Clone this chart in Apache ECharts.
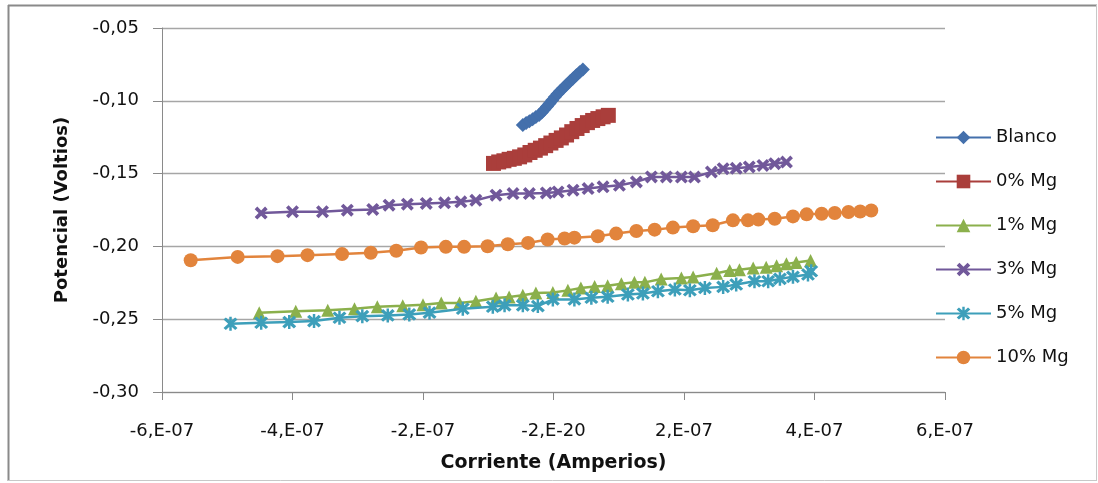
<!DOCTYPE html>
<html>
<head>
<meta charset="utf-8">
<script src="https://cdn.jsdelivr.net/npm/echarts@6/dist/echarts.min.js"></script>
<style>
html,body{margin:0;padding:0;background:#fff;}
#c{width:1098px;height:483px;}
</style>
</head>
<body>
<div id="c"></div>
<script>
// ---- data ----
const xTickLabels = ['-6,E-07', '-4,E-07', '-2,E-07', '-2,E-20', '2,E-07', '4,E-07', '6,E-07'];
const yTickLabels = ['-0,30', '-0,25', '-0,20', '-0,15', '-0,10', '-0,05'];
const seriesNames = ['Blanco', '0% Mg', '1% Mg', '3% Mg', '5% Mg', '10% Mg'];

const blanco = [
  [-4.7e-8, -0.1166], [-4.2e-8, -0.1153], [-3.7e-8, -0.1140], [-3.2e-8, -0.1126],
  [-2.7e-8, -0.1112], [-2.2e-8, -0.1097], [-1.8e-8, -0.1080], [-1.4e-8, -0.1060],
  [-1.0e-8, -0.1040], [-0.6e-8, -0.1019], [-0.2e-8, -0.0996], [0.2e-8, -0.0974],
  [0.6e-8, -0.0954], [1.0e-8, -0.0935], [1.5e-8, -0.0912], [2.0e-8, -0.0890],
  [2.5e-8, -0.0868], [3.0e-8, -0.0846], [3.5e-8, -0.0824], [4.0e-8, -0.0804],
  [4.5e-8, -0.0785]
];

const mg0 = [
  [-0.92e-7, -0.1430], [-0.84e-7, -0.1420], [-0.76e-7, -0.1412], [-0.68e-7, -0.1402],
  [-0.60e-7, -0.1395], [-0.52e-7, -0.1385], [-0.44e-7, -0.1372], [-0.36e-7, -0.1355],
  [-0.28e-7, -0.1340], [-0.20e-7, -0.1325], [-0.12e-7, -0.1308], [-0.04e-7, -0.1290],
  [0.04e-7, -0.1272], [0.12e-7, -0.1255], [0.20e-7, -0.1235], [0.28e-7, -0.1212],
  [0.36e-7, -0.1190], [0.44e-7, -0.1170], [0.52e-7, -0.1150], [0.60e-7, -0.1135],
  [0.68e-7, -0.1122], [0.76e-7, -0.1110], [0.84e-7, -0.1100]
];

const mg1 = [
  [-4.51e-7, -0.2455], [-3.95e-7, -0.2445], [-3.46e-7, -0.2438], [-3.05e-7, -0.2429],
  [-2.70e-7, -0.2415], [-2.31e-7, -0.2407], [-2.00e-7, -0.2400], [-1.72e-7, -0.2388],
  [-1.44e-7, -0.2388], [-1.19e-7, -0.2377], [-0.88e-7, -0.2354], [-0.68e-7, -0.2347],
  [-0.47e-7, -0.2336], [-0.27e-7, -0.2320], [-0.01e-7, -0.2316], [0.22e-7, -0.2302],
  [0.42e-7, -0.2286], [0.63e-7, -0.2275], [0.83e-7, -0.2270], [1.04e-7, -0.2256],
  [1.24e-7, -0.2247], [1.40e-7, -0.2247], [1.65e-7, -0.2224], [1.96e-7, -0.2217],
  [2.14e-7, -0.2210], [2.50e-7, -0.2184], [2.70e-7, -0.2165], [2.85e-7, -0.2161],
  [3.06e-7, -0.2149], [3.26e-7, -0.2143], [3.42e-7, -0.2133], [3.57e-7, -0.2120],
  [3.72e-7, -0.2111], [3.94e-7, -0.2097]
];

const mg3 = [
  [-4.48e-7, -0.1771], [-4.00e-7, -0.1762], [-3.54e-7, -0.1762], [-3.16e-7, -0.1751],
  [-2.77e-7, -0.1746], [-2.52e-7, -0.1717], [-2.24e-7, -0.1710], [-1.95e-7, -0.1705],
  [-1.67e-7, -0.1701], [-1.42e-7, -0.1694], [-1.19e-7, -0.1683], [-0.88e-7, -0.1648],
  [-0.62e-7, -0.1637], [-0.37e-7, -0.1637], [-0.11e-7, -0.1633], [0.07e-7, -0.1626],
  [0.30e-7, -0.1614], [0.53e-7, -0.1603], [0.76e-7, -0.1591], [1.01e-7, -0.1580],
  [1.27e-7, -0.1557], [1.50e-7, -0.1523], [1.73e-7, -0.1523], [1.96e-7, -0.1524],
  [2.16e-7, -0.1524], [2.42e-7, -0.1489], [2.60e-7, -0.1466], [2.80e-7, -0.1464],
  [3.00e-7, -0.1454], [3.21e-7, -0.1444], [3.39e-7, -0.1432], [3.57e-7, -0.1421]
];

const mg5 = [
  [-4.95e-7, -0.2531], [-4.48e-7, -0.2524], [-4.05e-7, -0.2520], [-3.67e-7, -0.2513],
  [-3.28e-7, -0.2490], [-2.93e-7, -0.2479], [-2.54e-7, -0.2474], [-2.21e-7, -0.2467],
  [-1.90e-7, -0.2455], [-1.39e-7, -0.2428], [-0.93e-7, -0.2414], [-0.75e-7, -0.2405],
  [-0.47e-7, -0.2405], [-0.24e-7, -0.2410], [-0.01e-7, -0.2364], [0.32e-7, -0.2364],
  [0.58e-7, -0.2353], [0.83e-7, -0.2346], [1.14e-7, -0.2330], [1.37e-7, -0.2323],
  [1.60e-7, -0.2308], [1.86e-7, -0.2296], [2.09e-7, -0.2301], [2.32e-7, -0.2285],
  [2.60e-7, -0.2278], [2.80e-7, -0.2262], [3.08e-7, -0.2239], [3.29e-7, -0.2239],
  [3.47e-7, -0.2223], [3.67e-7, -0.2209], [3.90e-7, -0.2193], [3.95e-7, -0.2171]
];

const mg10 = [
  [-5.56e-7, -0.2095], [-4.84e-7, -0.2072], [-4.23e-7, -0.2067], [-3.77e-7, -0.2060],
  [-3.24e-7, -0.2053], [-2.80e-7, -0.2044], [-2.41e-7, -0.2030], [-2.03e-7, -0.2008],
  [-1.65e-7, -0.2003], [-1.37e-7, -0.2003], [-1.01e-7, -0.1999], [-0.70e-7, -0.1985],
  [-0.39e-7, -0.1976], [-0.09e-7, -0.1953], [0.17e-7, -0.1946], [0.32e-7, -0.1940],
  [0.68e-7, -0.1930], [0.96e-7, -0.1912], [1.27e-7, -0.1894], [1.55e-7, -0.1885],
  [1.83e-7, -0.1871], [2.14e-7, -0.1862], [2.44e-7, -0.1855], [2.75e-7, -0.1821],
  [2.98e-7, -0.1821], [3.14e-7, -0.1816], [3.39e-7, -0.1810], [3.67e-7, -0.1794],
  [3.88e-7, -0.1780], [4.11e-7, -0.1776], [4.31e-7, -0.1771], [4.52e-7, -0.1764],
  [4.70e-7, -0.1760], [4.87e-7, -0.1753]
];

// ---- styling ----
const colors = ['#4470AC', '#AA3E3B', '#8BB04C', '#71589A', '#3D9FBA', '#E2843C'];
const FONT = 'DejaVu Sans';
const X_PATH = 'path://M2,0 L5,3 L8,0 L10,2 L7,5 L10,8 L8,10 L5,7 L2,10 L0,8 L3,5 L0,2 Z';
const STAR_PATH = 'path://M2,0.5 L5,3.5 L8,0.5 L9.5,2 L6.5,5 L9.5,8 L8,9.5 L5,6.5 L2,9.5 L0.5,8 L3.5,5 L0.5,2 Z M4.2,0 L5.8,0 L5.8,10 L4.2,10 Z';
const symbols = ['diamond', 'rect', 'triangle', X_PATH, STAR_PATH, 'circle'];
const sizes = [14, 15, 13, 13, 14, 14];
const datasets = [blanco, mg0, mg1, mg3, mg5, mg10];

const xMin = -6e-7, xMax = 6e-7, xStep = 2e-7;
const yMin = -0.30, yMax = -0.05, yStep = 0.05;

const chart = echarts.init(document.getElementById('c'), null, {renderer: 'canvas'});

const series = datasets.map((d, i) => ({
  name: seriesNames[i],
  type: 'line',
  data: d,
  symbol: symbols[i],
  symbolSize: sizes[i],
  showSymbol: true,
  showAllSymbol: true,
  smooth: false,
  lineStyle: {color: colors[i], width: 2.5},
  itemStyle: {color: colors[i]},
  emphasis: {disabled: true},
  z: 2 + i
}));

chart.setOption({
  animation: false,
  backgroundColor: '#ffffff',
  grid: {left: 162, right: 153, top: 28, bottom: 91, containLabel: false},
  xAxis: {
    type: 'value',
    min: xMin, max: xMax, interval: xStep,
    name: 'Corriente (Amperios)',
    nameLocation: 'middle',
    nameGap: 62,
    nameTextStyle: {fontFamily: FONT, fontSize: 19, fontWeight: 'bold', color: '#111'},
    axisLine: {show: true, onZero: false, lineStyle: {color: '#8a8a8a', width: 1}},
    axisTick: {show: true, length: 8, lineStyle: {color: '#8a8a8a'}},
    splitLine: {show: false},
    axisLabel: {
      margin: 30,
      fontFamily: FONT, fontSize: 18, color: '#111',
      formatter: function (v) {
        const k = Math.round((v - xMin) / xStep);
        return xTickLabels[k] !== undefined ? xTickLabels[k] : '';
      }
    }
  },
  yAxis: {
    type: 'value',
    min: yMin, max: yMax, interval: yStep,
    name: 'Potencial (Voltios)',
    nameLocation: 'middle',
    nameGap: 91,
    nameTextStyle: {fontFamily: FONT, fontSize: 18, fontWeight: 'bold', color: '#111'},
    axisLine: {show: true, onZero: false, lineStyle: {color: '#8a8a8a', width: 1}},
    axisTick: {show: true, length: 9, lineStyle: {color: '#8a8a8a'}},
    splitLine: {show: true, lineStyle: {color: '#a6a6a6', width: 1.3}},
    axisLabel: {
      margin: 23,
      fontFamily: FONT, fontSize: 18, color: '#111',
      formatter: function (v) {
        const k = Math.round((v - yMin) / yStep);
        return yTickLabels[k] !== undefined ? yTickLabels[k] : '';
      }
    }
  },
  legend: {
    orient: 'vertical',
    left: 930,
    top: 122,
    itemWidth: 55,
    itemHeight: 17,
    itemGap: 23,
    textStyle: {fontFamily: FONT, fontSize: 18, color: '#111', lineHeight: 21, padding: [0, 0, 0, 0]},
    data: seriesNames
  },
  graphic: [
    {type: 'line', shape: {x1: 8, y1: 5.5, x2: 1097, y2: 5.5}, style: {stroke: '#8a8a8a', lineWidth: 2}, silent: true},
    {type: 'line', shape: {x1: 8.5, y1: 5, x2: 8.5, y2: 481}, style: {stroke: '#8a8a8a', lineWidth: 2}, silent: true},
    {type: 'line', shape: {x1: 1096.5, y1: 5, x2: 1096.5, y2: 481}, style: {stroke: '#c8c8c8', lineWidth: 1}, silent: true},
    {type: 'line', shape: {x1: 8, y1: 480.5, x2: 1097, y2: 480.5}, style: {stroke: '#c8c8c8', lineWidth: 1}, silent: true}
  ],
  series: series
});
</script>
</body>
</html>
